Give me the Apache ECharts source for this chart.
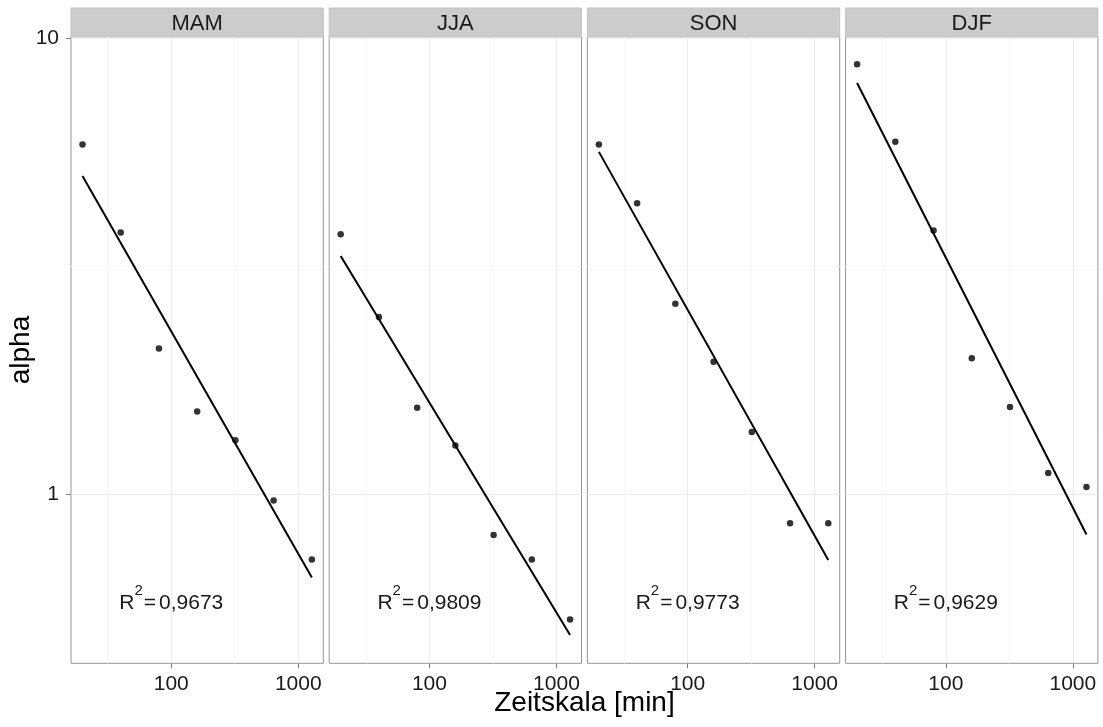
<!DOCTYPE html>
<html><head><meta charset="utf-8">
<script src="https://cdn.jsdelivr.net/npm/echarts@6/dist/echarts.min.js"></script>
<style>html,body{margin:0;padding:0;background:#fff}#c{width:1103px;height:727px}</style>
</head><body><div id="c"></div>
<script>
// ---------- data ----------
const seasons = ['MAM', 'JJA', 'SON', 'DJF'];
const timeScale = [20, 40, 80, 160, 320, 640, 1280];           // Zeitskala [min]
const alphaMAM = [5.85, 3.75, 2.09, 1.52, 1.315, 0.97, 0.72];
const alphaJJA = [3.72, 2.45, 1.55, 1.28, 0.815, 0.72, 0.532];
const alphaSON = [5.85, 4.35, 2.62, 1.954, 1.37, 0.865, 0.865];
const alphaDJF = [8.77, 5.93, 3.79, 1.99, 1.556, 1.114, 1.039];
const r2Values = ['0,9673', '0,9809', '0,9773', '0,9629'];
const xTickValues = [100, 1000];
const yTickValues = [1, 10];
const xMinorBreaks = [31.62, 316.2];
const yMinorBreaks = [3.162];
const r2LabelAt = [100, 0.6];

const alphaBySeason = [alphaMAM, alphaJJA, alphaSON, alphaDJF];

// ---------- layout ----------
const FONT = '"Liberation Sans", Arial, sans-serif';
const panelLeft0 = 71, panelStep = 258.2, panelW = 252.3;
const panelTop = 36.7, panelH = 626.6;
const stripTop = 8, stripH = panelTop - stripTop;
const xMin = 16.24, xMax = 1575;
const yMin = 0.4265, yMax = 10.08;

// least squares fit in log-log space (geom_smooth(method = lm) on log axes)
function logFit(xs, ys) {
  const lx = xs.map(Math.log10), ly = ys.map(Math.log10);
  const n = lx.length;
  const mx = lx.reduce((a, b) => a + b, 0) / n;
  const my = ly.reduce((a, b) => a + b, 0) / n;
  let sxy = 0, sxx = 0;
  for (let i = 0; i < n; i++) { sxy += (lx[i] - mx) * (ly[i] - my); sxx += (lx[i] - mx) ** 2; }
  const b = sxy / sxx, a = my - b * mx;
  return [xs[0], xs[n - 1]].map(x => [x, Math.pow(10, a + b * Math.log10(x))]);
}

const grids = [], xAxes = [], yAxes = [], xMinorAxes = [], yMinorAxes = [], series = [], graphics = [];
const hidden = { axisLine: { show: false }, axisLabel: { show: false } };
seasons.forEach((s, i) => {
  const left = panelLeft0 + i * panelStep;
  grids.push({ left: left, top: panelTop, width: panelW, height: panelH,
    show: true, borderColor: '#959595', borderWidth: 1, backgroundColor: '#ffffff', containLabel: false });
  xAxes.push({
    type: 'log', logBase: 10, gridIndex: i, min: xMin, max: xMax,
    axisLine: { show: false },
    axisTick: { show: true, length: 5, customValues: xTickValues, lineStyle: { color: '#7f7f7f', width: 1 } },
    axisLabel: { show: true, customValues: xTickValues, margin: 10, fontFamily: FONT, fontSize: 21, color: '#1a1a1a',
      formatter: v => String(Math.round(v)) },
    splitLine: { show: true, lineStyle: { color: '#ebebeb', width: 1 } }
  });
  yAxes.push({
    type: 'log', logBase: 10, gridIndex: i, min: yMin, max: yMax,
    axisLine: { show: false },
    axisTick: { show: i === 0, length: 5, customValues: yTickValues, lineStyle: { color: '#7f7f7f', width: 1 } },
    axisLabel: { show: i === 0, customValues: yTickValues, margin: 12, padding: [4, 0, 0, 0], fontFamily: FONT, fontSize: 21, color: '#1a1a1a',
      formatter: v => String(Math.round(v)) },
    splitLine: { show: true, lineStyle: { color: '#ebebeb', width: 1 } }
  });
  // faint minor grid lines (theme_bw minor grid) through hidden companion axes
  xMinorAxes.push(Object.assign({
    type: 'log', logBase: 10, gridIndex: i, min: xMin, max: xMax, position: 'top',
    axisTick: { show: false, customValues: xMinorBreaks },
    splitLine: { show: true, lineStyle: { color: '#f7f7f7', width: 1 } }
  }, hidden));
  yMinorAxes.push(Object.assign({
    type: 'log', logBase: 10, gridIndex: i, min: yMin, max: yMax, position: 'right',
    axisTick: { show: false, customValues: yMinorBreaks },
    splitLine: { show: true, lineStyle: { color: '#f7f7f7', width: 1 } }
  }, hidden));

  const ys = alphaBySeason[i];
  // R² annotation
  series.push({
    type: 'scatter', xAxisIndex: i, yAxisIndex: i, z: 1, silent: true,
    symbolSize: 1, itemStyle: { opacity: 0 },
    data: [r2LabelAt],
    label: {
      show: true, position: 'inside', offset: [0, 3], opacity: 1,
      formatter: '{r|R}{s|2}{e|=}{r|' + r2Values[i] + '}',
      rich: {
        r: { fontFamily: FONT, fontSize: 21, color: '#1a1a1a', lineHeight: 30, verticalAlign: 'bottom' },
        e: { fontFamily: FONT, fontSize: 21, color: '#1a1a1a', lineHeight: 30, verticalAlign: 'bottom', padding: [0, 3, 0, 1] },
        s: { fontFamily: FONT, fontSize: 15, color: '#1a1a1a', lineHeight: 15, verticalAlign: 'top' }
      }
    }
  });
  series.push({
    type: 'line', xAxisIndex: i, yAxisIndex: i, z: 3, silent: true,
    symbol: 'none', lineStyle: { color: '#000', width: 2 },
    data: logFit(timeScale, ys)
  });
  series.push({
    type: 'scatter', xAxisIndex: i, yAxisIndex: i, z: 4, silent: true,
    symbol: 'circle', symbolSize: 6.5, itemStyle: { color: '#000' },
    data: timeScale.map((x, k) => [x, ys[k]])
  });
  graphics.push({ type: 'rect', silent: true, z: 10,
    shape: { x: left, y: stripTop, width: panelW, height: stripH },
    style: { fill: '#cccccc', stroke: '#c4c4c4', lineWidth: 1 } });
  graphics.push({ type: 'text', silent: true, z: 11, x: left + panelW / 2, y: 24,
    style: { text: s, font: '22px ' + FONT, fill: '#1a1a1a', textAlign: 'center', textVerticalAlign: 'middle' } });
});

graphics.push({ type: 'text', silent: true, x: (panelLeft0 + panelLeft0 + 3 * panelStep + panelW) / 2, y: 703,
  style: { text: 'Zeitskala [min]', font: '28px ' + FONT, fill: '#000', textAlign: 'center', textVerticalAlign: 'middle' } });
graphics.push({ type: 'text', silent: true, x: 21, y: panelTop + panelH / 2, rotation: Math.PI / 2,
  style: { text: 'alpha', font: '28px ' + FONT, fill: '#000', textAlign: 'center', textVerticalAlign: 'middle' } });

const chart = echarts.init(document.getElementById('c'), null, { renderer: 'canvas' });
chart.setOption({
  animation: false,
  backgroundColor: '#ffffff',
  grid: grids,
  xAxis: xAxes.concat(xMinorAxes),
  yAxis: yAxes.concat(yMinorAxes),
  series: series,
  graphic: graphics
});
</script></body></html>
